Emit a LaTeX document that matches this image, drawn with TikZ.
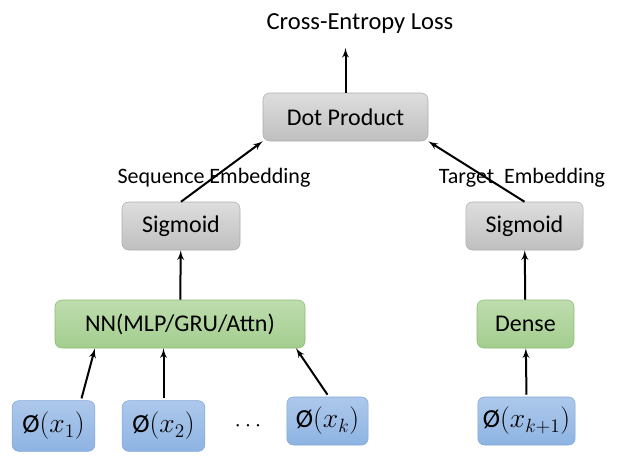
\documentclass[tikz,border=0pt]{standalone}
\usepackage{fontspec}
\setmainfont{Carlito}
\usetikzlibrary{arrows}
\usetikzlibrary{calc}
\definecolor{greytop}{HTML}{DEDEDE}
\definecolor{greybot}{HTML}{BFBFBF}
\definecolor{greyline}{HTML}{ADADAD}
\definecolor{greentop}{HTML}{BEDDAE}
\definecolor{greenbot}{HTML}{A3CD8E}
\definecolor{greenline}{HTML}{8CBB72}
\definecolor{bluetop}{HTML}{ADC8EB}
\definecolor{bluebot}{HTML}{8EB4E3}
\definecolor{blueline}{HTML}{7FA4D6}
\tikzset{box/.style = {draw, rounded corners = 5, minimum height = 36pt, inner sep = 0,
    font = \fontsize{18}{20}\selectfont}}
\tikzset{greybox/.style = {box, draw = greyline, top color = greytop, bottom color = greybot}}
\tikzset{greenbox/.style = {box, draw = greenline, top color = greentop, bottom color = greenbot}}
\tikzset{bluebox/.style = {box, draw = blueline, top color = bluetop, bottom color = bluebot,
    font = \fontsize{19.5}{21}\selectfont}}
\tikzset{lbl/.style = {font = \fontsize{16.5}{18}\selectfont}}
\tikzset{conn/.style = {-latex', line width = 1.5pt}}

\begin{document}
\begin{tikzpicture}[x = 0.75pt, y = -0.75pt]
    \useasboundingbox (0, 0) rectangle (626, 469);
    \node [font = \fontsize{18.4}{20}\selectfont] (loss) at (360, 24) {Cross-Entropy Loss};
    \node [greybox, minimum width = 123.75pt] (dot) at (345.5, 117) {Dot Product};
    \node [lbl] (seqlbl) at (214, 178) {Sequence Embedding};
    \node [lbl] (tgtlbl) at (522, 178) {Target\ \ Embedding};
    \node [greybox, minimum width = 88.5pt] (sigl) at (181, 226) {Sigmoid};
    \node [greybox, minimum width = 88pt] (sigr) at (524.5, 226) {Sigmoid};
    \node [greenbox, minimum width = 187.5pt] (nn) at (180, 324) {NN(MLP/GRU/Attn)};
    \node [greenbox, minimum width = 72.75pt] (dense) at (525.5, 324) {Dense};
    \node [bluebox, minimum width = 62pt, minimum height = 38pt] (x1) at (53.5, 426) {Ø$(x_1)$};
    \node [bluebox, minimum width = 62pt, minimum height = 38pt] (x2) at (163.5, 426) {Ø$(x_2)$};
    \node [font = \fontsize{16}{18}\selectfont] (dots) at (248, 426) {$\cdots$};
    \node [bluebox, minimum width = 61pt] (xk) at (327.5, 421) {Ø$(x_k)$};
    \node [bluebox, minimum width = 73pt] (xk1) at (526.5, 421) {Ø$(x_{k+1})$};
    % connectors
    \draw [conn, shorten > = 7] (dot) -- (dot |- loss.south);
    \draw [conn] (sigl.north) -- (dot.south west);
    \draw [conn] (sigr.north) -- (dot.south east);
    \draw [conn] (nn) -- (sigl);
    \draw [conn] (dense) -- (sigr);
    \draw [conn] ($(x1.north) + (28, -2)$) -- ($(nn.south) + (-85, 0)$);
    \draw [conn] ($(x2.north) + (0, -2)$) -- (x2 |- nn.south);
    \draw [conn] ($(xk.north) + (0, -2)$) -- ($(nn.south) + (116, 0)$);
    \draw [conn] ($(xk1.north) + (0, -2)$) -- (dense);
  \end{tikzpicture}
\end{document}
